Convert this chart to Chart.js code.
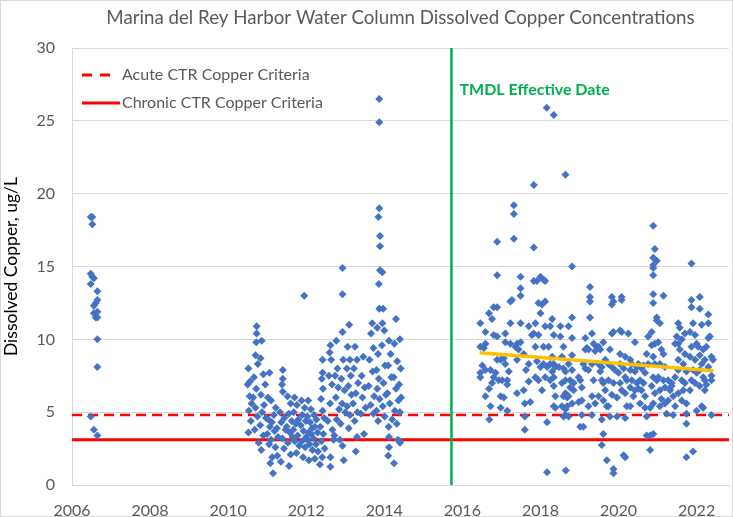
<!DOCTYPE html>
<html>
<head>
  <meta charset="utf-8">
  <title>Marina del Rey Harbor Water Column Dissolved Copper Concentrations</title>
  <style>
    html, body { margin: 0; padding: 0; background: #fff; }
    #wrap { width: 733px; height: 517px; }
  </style>
</head>
<body>
  <div id="wrap"><canvas id="copperChart"></canvas></div>

<script src="https://cdn.jsdelivr.net/npm/chart.js"></script>
<script>
    // [sampling date as decimal year, dissolved copper (ug/L)]
    const samples2006 = [
        [2006.48, 18.4], [2006.48, 14.5], [2006.48, 13.8], [2006.48, 4.7],
        [2006.52, 18.4], [2006.52, 17.9], [2006.52, 14.3],
        [2006.56, 14.2], [2006.56, 12.3], [2006.56, 11.8], [2006.56, 3.8],
        [2006.61, 12.5], [2006.61, 11.5],
        [2006.65, 13.3], [2006.65, 12.7], [2006.65, 11.9], [2006.65, 11.5], [2006.65, 10.0], [2006.65, 8.1], [2006.65, 3.4]
    ];
    const samples2010to2012 = [
        [2010.52, 8.0], [2010.56, 7.1], [2010.50, 6.9], [2010.55, 6.1], [2010.60, 5.6], [2010.53, 5.1], [2010.58, 4.4], [2010.52, 3.6],
        [2010.73, 10.9], [2010.73, 10.4], [2010.72, 9.8], [2010.70, 8.9], [2010.76, 8.3], [2010.66, 7.4], [2010.72, 6.6], [2010.64, 6.0],
        [2010.70, 5.3], [2010.75, 4.7], [2010.68, 3.8], [2010.78, 2.9],
        [2010.86, 9.9], [2010.83, 8.7], [2010.90, 7.6], [2010.95, 6.9], [2010.84, 6.2], [2010.92, 5.5], [2010.87, 5.0], [2010.97, 4.6],
        [2010.82, 4.1], [2010.90, 3.4], [2010.85, 2.4],
        [2011.06, 7.7], [2011.02, 6.0], [2011.10, 5.8], [2011.03, 4.5], [2011.12, 4.3], [2011.07, 4.0], [2011.00, 3.5], [2011.10, 3.1],
        [2011.05, 2.8], [2011.13, 1.9], [2011.08, 1.5], [2011.15, 0.8],
        [2011.22, 5.3], [2011.17, 4.8], [2011.25, 3.9], [2011.19, 3.7], [2011.28, 3.3], [2011.21, 2.6], [2011.26, 2.0],
        [2011.40, 7.9], [2011.40, 7.3], [2011.38, 6.9], [2011.40, 6.4], [2011.33, 5.0], [2011.44, 4.6], [2011.36, 4.3], [2011.47, 3.8],
        [2011.39, 3.2], [2011.43, 2.5], [2011.35, 1.6],
        [2011.52, 6.1], [2011.60, 5.6], [2011.55, 4.9], [2011.63, 4.4], [2011.50, 4.0], [2011.58, 3.6], [2011.65, 3.3], [2011.53, 2.9],
        [2011.60, 2.1], [2011.56, 1.3],
        [2011.70, 6.0], [2011.76, 5.5], [2011.68, 5.0], [2011.80, 4.5], [2011.73, 4.2], [2011.67, 3.8], [2011.78, 3.4], [2011.71, 3.0],
        [2011.82, 2.7], [2011.75, 2.2],
        [2011.95, 13.0], [2011.88, 5.8], [2011.96, 5.3], [2011.90, 4.8], [2011.99, 4.4], [2011.86, 4.1], [2011.93, 3.7], [2012.00, 3.3],
        [2011.89, 3.0], [2011.97, 2.6], [2011.92, 1.9],
        [2012.05, 5.8], [2012.12, 5.2], [2012.03, 4.7], [2012.10, 4.3], [2012.15, 3.9], [2012.06, 3.6], [2012.13, 3.5], [2012.02, 3.1],
        [2012.09, 2.8], [2012.16, 2.4], [2012.07, 1.7],
        [2012.20, 4.8], [2012.26, 4.5], [2012.22, 4.0], [2012.29, 3.6], [2012.19, 3.2], [2012.25, 2.8], [2012.30, 2.3], [2012.22, 1.8],
        [2012.42, 8.6], [2012.42, 7.7], [2012.40, 7.3], [2012.43, 6.6], [2012.38, 5.9], [2012.42, 5.1], [2012.46, 4.6], [2012.36, 4.0],
        [2012.44, 3.5], [2012.39, 3.0], [2012.47, 2.5], [2012.41, 1.9], [2012.35, 1.4],
        [2012.62, 9.6], [2012.60, 9.1], [2012.64, 8.6], [2012.58, 7.5], [2012.66, 6.9], [2012.61, 5.6], [2012.55, 4.4], [2012.67, 3.8],
        [2012.70, 3.1], [2012.62, 1.9], [2012.62, 1.25]
    ];
    const samples2013to2014 = [
        [2012.77, 9.9], [2012.80, 8.0], [2012.74, 7.5], [2012.82, 6.7], [2012.76, 6.0], [2012.84, 5.2], [2012.78, 4.5], [2012.72, 3.4], [2012.86, 3.1],
        [2012.93, 14.9], [2012.93, 13.1], [2012.93, 10.5], [2012.95, 8.6], [2012.90, 7.3], [2012.98, 6.5], [2012.92, 5.6], [2013.00, 5.0],
        [2012.88, 4.2], [2012.93, 2.7], [2012.96, 1.7],
        [2013.10, 11.0], [2013.06, 9.5], [2013.12, 8.6], [2013.04, 8.0], [2013.14, 7.5], [2013.08, 6.8], [2013.16, 6.2], [2013.05, 5.4],
        [2013.12, 4.8], [2013.09, 3.9],
        [2013.25, 9.5], [2013.30, 8.6], [2013.22, 8.0], [2013.33, 7.0], [2013.27, 6.3], [2013.20, 5.6], [2013.31, 5.0], [2013.24, 4.4],
        [2013.30, 3.3], [2013.27, 2.3],
        [2013.46, 8.8], [2013.42, 7.5], [2013.50, 6.7], [2013.44, 6.0], [2013.52, 5.3], [2013.40, 4.9], [2013.48, 3.5],
        [2013.69, 11.1], [2013.66, 10.4], [2013.72, 9.4], [2013.62, 8.6], [2013.70, 7.8], [2013.60, 6.8], [2013.74, 6.1], [2013.65, 5.5], [2013.72, 4.9],
        [2013.87, 26.5], [2013.87, 24.9], [2013.87, 19.0], [2013.85, 18.4], [2013.89, 17.1], [2013.89, 16.4], [2013.89, 14.75], [2013.86, 13.8],
        [2013.87, 12.1], [2013.82, 10.8], [2013.84, 9.0], [2013.80, 7.9], [2013.86, 7.3], [2013.82, 6.6], [2013.88, 5.9], [2013.80, 5.1], [2013.84, 4.4],
        [2013.95, 14.6], [2013.97, 12.1], [2013.95, 11.1], [2014.00, 10.6], [2013.94, 9.6], [2014.02, 8.2], [2013.98, 7.0], [2014.04, 6.2],
        [2013.96, 5.4], [2014.01, 4.7],
        [2014.12, 9.9], [2014.16, 9.0], [2014.10, 8.2], [2014.18, 7.4], [2014.08, 6.3], [2014.14, 5.6], [2014.20, 4.5], [2014.11, 4.0],
        [2014.12, 3.3], [2014.12, 2.6], [2014.10, 2.0],
        [2014.30, 11.4], [2014.26, 9.7], [2014.33, 8.5], [2014.24, 7.4], [2014.30, 6.6], [2014.36, 5.8], [2014.27, 5.1], [2014.32, 4.2],
        [2014.35, 3.1], [2014.25, 1.5],
        [2014.40, 10.0], [2014.42, 8.0], [2014.38, 6.9], [2014.43, 6.0], [2014.40, 5.0], [2014.40, 3.0], [2014.40, 2.9]
    ];
    const samples2016to2018 = [
        [2016.46, 11.1], [2016.59, 10.5], [2016.46, 9.5], [2016.59, 9.7], [2016.51, 8.2], [2016.46, 7.7], [2016.46, 7.4], [2016.59, 6.1],
        [2016.68, 6.6], [2016.72, 5.4], [2016.69, 4.5], [2016.55, 9.4], [2016.59, 7.9],
        [2016.68, 11.8], [2016.80, 12.2], [2016.89, 12.2], [2016.76, 11.4], [2016.80, 10.3], [2016.89, 10.2], [2016.72, 7.9], [2016.85, 7.7],
        [2016.80, 7.4], [2016.89, 8.6], [2016.89, 14.4], [2016.89, 16.7], [2016.76, 7.0], [2016.93, 7.2],
        [2016.98, 8.6], [2017.06, 8.7], [2017.02, 7.2], [2016.98, 6.1], [2017.06, 6.0], [2016.98, 5.3], [2017.10, 10.4], [2017.10, 9.8],
        [2017.15, 5.1], [2017.15, 6.9], [2017.10, 8.3],
        [2017.23, 11.1], [2017.23, 12.6], [2017.27, 12.7], [2017.32, 19.2], [2017.32, 18.6], [2017.32, 16.9], [2017.40, 9.7], [2017.19, 7.8],
        [2017.15, 7.2], [2017.23, 9.7], [2017.36, 9.5], [2017.40, 8.6], [2017.40, 6.3],
        [2017.49, 14.3], [2017.49, 13.5], [2017.49, 13.0], [2017.49, 11.1], [2017.49, 9.8], [2017.57, 9.0], [2017.57, 6.5], [2017.60, 5.6],
        [2017.60, 4.7], [2017.60, 3.8], [2017.44, 9.3], [2017.63, 7.9],
        [2017.70, 10.9], [2017.78, 10.3], [2017.70, 8.3], [2017.70, 7.1], [2017.83, 20.6], [2017.83, 16.3], [2017.83, 14.0], [2017.91, 14.0],
        [2017.83, 10.4], [2017.87, 11.1], [2017.87, 9.5], [2017.91, 8.5], [2017.74, 5.7], [2017.87, 7.4],
        [2018.00, 14.3], [2018.08, 14.1], [2018.12, 14.0], [2017.95, 12.5], [2018.04, 12.4], [2018.12, 12.6], [2018.00, 11.8], [2018.12, 10.9],
        [2017.95, 10.3], [2018.08, 9.5], [2018.00, 8.1], [2018.08, 8.3], [2017.95, 7.2], [2018.17, 8.1], [2018.04, 6.5], [2018.12, 7.4],
        [2018.16, 25.9], [2018.34, 25.4],
        [2018.30, 11.4], [2018.25, 10.9], [2018.34, 10.3], [2018.21, 9.5], [2018.30, 8.8], [2018.25, 8.3], [2018.34, 8.3], [2018.38, 8.1],
        [2018.30, 7.8], [2018.34, 7.4], [2018.25, 7.2], [2018.34, 6.8], [2018.38, 6.1], [2018.34, 5.4], [2018.38, 5.3], [2018.17, 4.3],
        [2018.17, 0.87]
    ];
    const samples2018to2020 = [
        [2018.51, 10.2], [2018.59, 9.5], [2018.55, 8.8], [2018.47, 8.1], [2018.59, 8.0], [2018.64, 7.8], [2018.55, 7.0], [2018.64, 7.2],
        [2018.59, 6.1], [2018.64, 6.3], [2018.68, 6.0], [2018.55, 5.4], [2018.64, 5.2], [2018.59, 4.7], [2018.64, 4.8], [2018.65, 1.0],
        [2018.64, 21.3], [2018.51, 10.9],
        [2018.81, 15.0], [2018.81, 11.5], [2018.72, 10.9], [2018.81, 10.1], [2018.81, 8.9], [2018.72, 8.3], [2018.81, 7.9], [2018.76, 7.2],
        [2018.85, 7.0], [2018.76, 6.7], [2018.72, 6.1], [2018.85, 6.5], [2018.68, 5.4], [2018.81, 5.6], [2018.72, 4.7],
        [2018.98, 7.4], [2019.02, 7.2], [2019.06, 6.7], [2018.98, 5.7], [2019.06, 5.8], [2019.06, 4.8], [2019.02, 4.0], [2019.10, 4.0],
        [2019.15, 10.1], [2019.15, 9.3], [2019.19, 9.4], [2019.10, 8.3], [2019.15, 8.0],
        [2019.27, 13.6], [2019.27, 12.9], [2019.27, 12.6], [2019.27, 11.5], [2019.32, 10.4], [2019.36, 9.7], [2019.23, 9.3], [2019.40, 9.2],
        [2019.32, 8.3], [2019.23, 7.9], [2019.36, 7.2], [2019.32, 6.1], [2019.23, 5.4], [2019.40, 5.6], [2019.32, 4.8], [2019.44, 9.5],
        [2019.49, 9.5], [2019.53, 9.3], [2019.61, 9.8], [2019.49, 8.3], [2019.57, 8.1], [2019.66, 8.6], [2019.53, 7.8], [2019.57, 7.2],
        [2019.61, 7.0], [2019.66, 6.5], [2019.49, 6.1], [2019.61, 5.8], [2019.70, 5.4], [2019.57, 4.5], [2019.61, 3.5], [2019.57, 2.75],
        [2019.70, 1.7], [2019.87, 1.1], [2019.87, 0.8],
        [2019.83, 12.9], [2019.87, 12.6], [2019.83, 12.4], [2019.83, 10.4], [2019.87, 10.5], [2019.78, 9.3], [2019.74, 8.3], [2019.83, 8.1],
        [2019.91, 7.9], [2019.74, 7.2], [2019.87, 7.0], [2019.83, 6.2], [2019.96, 6.0], [2019.74, 5.4], [2019.78, 4.7], [2019.96, 4.7],
        [2020.08, 12.9], [2020.08, 12.7], [2020.04, 10.6], [2020.08, 10.5], [2020.04, 9.0], [2020.17, 8.8], [2020.04, 8.3], [2020.13, 8.0],
        [2020.00, 7.7], [2020.17, 7.4], [2020.21, 7.2], [2020.04, 7.0], [2020.08, 6.5], [2020.17, 6.3], [2020.21, 5.4], [2020.17, 4.6],
        [2020.13, 2.05], [2020.17, 1.9],
        [2020.42, 9.8], [2020.30, 8.6], [2020.34, 8.3], [2020.30, 7.9], [2020.42, 7.8], [2020.47, 8.1], [2020.34, 7.2], [2020.47, 7.0],
        [2020.30, 6.7], [2020.42, 6.5], [2020.38, 6.1], [2020.30, 5.4], [2020.25, 10.4]
    ];
    const samples2020to2022 = [
        [2020.51, 8.3], [2020.59, 8.0], [2020.68, 7.7], [2020.55, 7.2], [2020.64, 7.0], [2020.51, 6.6], [2020.59, 6.5], [2020.68, 6.1],
        [2020.55, 5.6], [2020.68, 5.3], [2020.72, 4.7], [2020.72, 3.4], [2020.72, 9.0], [2020.64, 8.2],
        [2020.89, 17.8], [2020.93, 16.2], [2020.89, 15.6], [2020.98, 15.4], [2020.89, 15.1], [2020.89, 14.9], [2020.89, 14.4], [2020.89, 13.1],
        [2020.89, 12.5], [2020.98, 11.5], [2020.98, 11.3], [2020.85, 10.5], [2020.76, 10.2], [2020.85, 9.6], [2020.93, 9.7], [2020.89, 8.8],
        [2020.76, 8.3], [2020.93, 8.3], [2020.89, 7.4], [2020.98, 7.2], [2020.85, 6.8], [2020.93, 6.3], [2020.81, 5.3], [2020.89, 5.6],
        [2020.81, 3.4], [2020.89, 3.5], [2020.81, 2.4],
        [2021.15, 13.0], [2021.06, 11.1], [2021.02, 9.8], [2021.10, 9.3], [2021.15, 9.0], [2021.06, 8.3], [2021.19, 8.1], [2021.02, 7.4],
        [2021.15, 7.2], [2021.06, 6.5], [2021.19, 6.7], [2021.10, 5.9], [2021.06, 5.4], [2021.19, 5.6], [2021.23, 4.9],
        [2021.27, 7.2], [2021.36, 7.0], [2021.45, 7.4], [2021.32, 6.5], [2021.40, 6.1], [2021.27, 5.8], [2021.36, 6.8], [2021.45, 5.4],
        [2021.40, 4.8], [2021.49, 10.2], [2021.45, 9.7],
        [2021.53, 11.1], [2021.57, 10.8], [2021.70, 10.4], [2021.62, 10.0], [2021.53, 9.7], [2021.57, 9.3], [2021.70, 9.0], [2021.53, 8.6],
        [2021.66, 8.3], [2021.53, 7.9], [2021.74, 7.8], [2021.62, 7.2], [2021.70, 7.0], [2021.66, 6.5], [2021.53, 6.3], [2021.62, 5.8],
        [2021.74, 5.6], [2021.74, 4.9], [2021.74, 4.2], [2021.74, 1.9], [2021.91, 2.3],
        [2021.87, 15.2], [2021.87, 12.7], [2021.87, 12.2], [2021.91, 11.1], [2021.83, 10.5], [2021.96, 10.3], [2021.87, 9.5], [2022.00, 9.7],
        [2021.83, 8.8], [2021.96, 8.6], [2021.91, 7.9], [2022.00, 7.7], [2021.87, 7.2], [2021.96, 7.0], [2021.83, 6.5], [2022.00, 5.1],
        [2022.08, 12.9], [2022.08, 12.1], [2022.13, 11.0], [2022.04, 9.5], [2022.17, 9.3], [2022.08, 8.9], [2022.13, 8.3], [2022.21, 8.6],
        [2022.08, 7.9], [2022.17, 7.4], [2022.21, 7.2], [2022.08, 6.8], [2022.21, 6.5], [2022.17, 5.3], [2022.13, 5.4],
        [2022.30, 11.7], [2022.30, 11.1], [2022.30, 10.1], [2022.34, 10.2], [2022.25, 9.5], [2022.38, 8.8], [2022.42, 8.6], [2022.30, 8.1],
        [2022.38, 7.5], [2022.25, 6.9], [2022.38, 7.2], [2022.38, 4.8]
    ];

    const xTickYears = [2006, 2008, 2010, 2012, 2014, 2016, 2018, 2020, 2022];
    const yTicks = [0, 5, 10, 15, 20, 25, 30];
    const xMin = 2006, xMax = 2022.83;
    const acuteCriteria = 4.8;
    const chronicCriteria = 3.1;
    const tmdlDate = 2015.72;
    const trendStart = [2016.44, 9.08];
    const trendEnd = [2022.43, 7.85];

    const FONT = "Lato, 'Open Sans', sans-serif";
    const GREY = '#595959';

    let samples = [];
    for (const group of [samples2006, samples2010to2012, samples2013to2014, samples2016to2018, samples2018to2020, samples2020to2022]) {
        for (const [year, cu] of group) samples.push({ x: year, y: cu });
    }

    // white page + thin frame, legend inside the plot, TMDL label
    const extras = {
        id: 'extras',
        beforeDraw(chart) {
            const ctx = chart.ctx;
            ctx.save();
            ctx.fillStyle = '#fff';
            ctx.fillRect(0, 0, chart.width, chart.height);
            ctx.strokeStyle = '#d9d9d9';
            ctx.lineWidth = 1;
            ctx.strokeRect(0.5, 0.5, chart.width - 1, chart.height - 1);
            ctx.restore();
        },
        afterDatasetsDraw(chart) {
            const ctx = chart.ctx;
            const area = chart.chartArea;
            const xs = chart.scales.x, ys = chart.scales.y;
            ctx.save();
            const lx = area.left + 10;
            const rows = [
                { text: 'Acute CTR Copper Criteria', dash: [10, 8], len: 29, y: area.top + 27 },
                { text: 'Chronic CTR Copper Criteria', dash: [], len: 38, y: area.top + 55 }
            ];
            for (const r of rows) {
                ctx.strokeStyle = '#ff0000';
                ctx.lineWidth = 3;
                ctx.setLineDash(r.dash);
                ctx.beginPath();
                ctx.moveTo(lx, r.y);
                ctx.lineTo(lx + r.len, r.y);
                ctx.stroke();
                ctx.setLineDash([]);
                ctx.fillStyle = GREY;
                ctx.font = '16px ' + FONT;
                ctx.textBaseline = 'middle';
                ctx.textAlign = 'left';
                ctx.fillText(r.text, lx + 40, r.y);
            }
            ctx.fillStyle = '#00b050';
            ctx.font = 'bold 16px ' + FONT;
            ctx.fillText('TMDL Effective Date', xs.getPixelForValue(tmdlDate) + 8, ys.getPixelForValue(27.1));
            ctx.restore();
        }
    };

    window.onload = () => {
        new Chart(document.getElementById('copperChart'), {
            type: 'scatter',
            data: {
                datasets: [
                    {
                        label: 'Dissolved Copper',
                        data: samples,
                        pointStyle: 'rectRot',
                        pointRadius: 4,
                        pointBorderWidth: 0,
                        backgroundColor: '#4472c4',
                        borderColor: '#4472c4',
                        order: 2
                    },
                    {
                        type: 'line',
                        label: 'Acute CTR Copper Criteria',
                        data: [{ x: xMin, y: acuteCriteria }, { x: xMax, y: acuteCriteria }],
                        borderColor: '#ff0000',
                        borderWidth: 2.5,
                        borderDash: [10, 6],
                        pointRadius: 0,
                        order: 4
                    },
                    {
                        type: 'line',
                        label: 'Chronic CTR Copper Criteria',
                        data: [{ x: xMin, y: chronicCriteria }, { x: xMax, y: chronicCriteria }],
                        borderColor: '#ff0000',
                        borderWidth: 3,
                        pointRadius: 0,
                        order: 4
                    },
                    {
                        type: 'line',
                        label: 'TMDL Effective Date',
                        data: [{ x: tmdlDate, y: 0 }, { x: tmdlDate, y: 30 }],
                        borderColor: '#00b050',
                        borderWidth: 2.5,
                        pointRadius: 0,
                        order: 3
                    },
                    {
                        type: 'line',
                        label: 'Trend',
                        data: [{ x: trendStart[0], y: trendStart[1] }, { x: trendEnd[0], y: trendEnd[1] }],
                        borderColor: '#ffc000',
                        borderWidth: 3.5,
                        pointRadius: 0,
                        order: 1
                    }
                ]
            },
            options: {
                responsive: true,
                maintainAspectRatio: false,
                animation: false,
                layout: { padding: { right: 2 } },
                plugins: {
                    legend: { display: false },
                    tooltip: { enabled: false },
                    title: {
                        display: true,
                        fullSize: false,
                        text: 'Marina del Rey Harbor Water Column Dissolved Copper Concentrations',
                        color: GREY,
                        font: { family: FONT, size: 18.7, weight: 'normal' },
                        padding: { top: 7, bottom: 18.6 }
                    }
                },
                scales: {
                    x: {
                        type: 'linear',
                        min: xMin,
                        max: xMax,
                        afterBuildTicks: (s) => { s.ticks = xTickYears.map(v => ({ value: v })); },
                        afterFit: (s) => { s.height = 32; },
                        ticks: {
                            color: GREY,
                            font: { family: FONT, size: 16 },
                            padding: 8,
                            maxRotation: 0,
                            autoSkip: false,
                            callback: (v) => String(v)
                        },
                        grid: { display: false },
                        border: { display: true, color: '#d9d9d9', width: 1 }
                    },
                    y: {
                        min: 0,
                        max: 30,
                        afterBuildTicks: (s) => { s.ticks = yTicks.map(v => ({ value: v })); },
                        afterFit: (s) => { s.width = 72; },
                        ticks: {
                            color: GREY,
                            font: { family: FONT, size: 16 },
                            padding: 17
                        },
                        grid: { color: '#d9d9d9', drawTicks: false },
                        border: { display: true, color: '#d9d9d9', width: 1 },
                        title: {
                            display: true,
                            text: 'Dissolved Copper, ug/L',
                            color: '#000',
                            font: { family: FONT, size: 17.5 },
                            padding: { top: 1, bottom: 0 }
                        }
                    }
                }
            },
            plugins: [extras]
        });
    };
</script>
</body>
</html>
